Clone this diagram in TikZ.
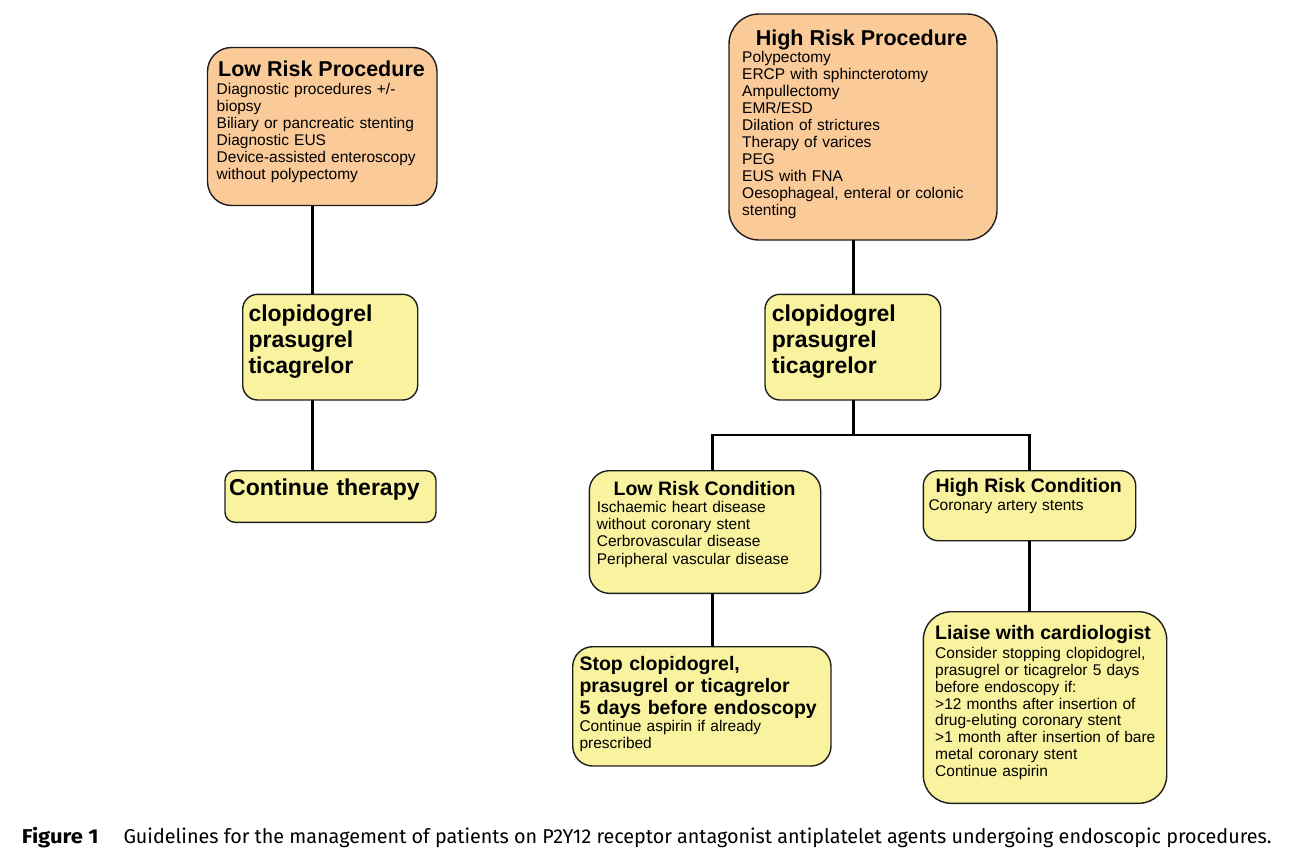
\documentclass[tikz,border=0pt]{standalone}
\usepackage{fontspec}
\setmainfont{Liberation Sans}
\newfontfamily\capfont{Fira Sans}
\usepackage{graphicx}
\definecolor{boxorange}{RGB}{251,202,153}
\definecolor{boxyellow}{RGB}{249,242,158}
\definecolor{edge}{RGB}{30,30,30}
\tikzset{
  boxbase/.style={draw=edge, line width=1.4pt, inner sep=0pt, outer sep=0pt, shape=rectangle},
  orangebox/.style={boxbase, fill=boxorange},
  yellowbox/.style={boxbase, fill=boxyellow},
  conn/.style={draw=black, line width=2.5pt},
  ttl/.style={inner sep=0pt, anchor=base, font=\bfseries\fontsize{21.5}{24}\selectfont},
  ttlsmall/.style={inner sep=0pt, anchor=base, font=\bfseries\fontsize{19.5}{21.7}\selectfont},
  bodytxt/.style={inner sep=0pt, anchor=base west, text width=320pt, align=left, font=\fontsize{15.5}{17}\selectfont},
  drugtxt/.style={inner sep=0pt, anchor=base west, text width=320pt, align=left, font=\bfseries\fontsize{23}{26}\selectfont},
  stoptxt/.style={inner sep=0pt, anchor=base west, text width=320pt, align=left, font=\bfseries\fontsize{19.5}{21.7}\selectfont},
}
\begin{document}
\begin{tikzpicture}[x=1pt,y=-1pt]
\useasboundingbox (0,0) rectangle (1289,855);
% boxes
\node[orangebox, rounded corners=24pt, minimum width=229.5pt, minimum height=158pt] (lrp) at (322.25,126.5) {};
\node[orangebox, rounded corners=30pt, minimum width=268pt, minimum height=226pt] (hrp) at (863,127) {};
\node[yellowbox, rounded corners=15pt, minimum width=175pt, minimum height=105.7pt] (drugl) at (330.2,347.15) {};
\node[yellowbox, rounded corners=15pt, minimum width=175.7pt, minimum height=105.7pt] (drugr) at (852.85,347.15) {};
\node[yellowbox, rounded corners=10pt, minimum width=211pt, minimum height=51.6pt] (cont) at (330.5,496.5) {};
\node[yellowbox, rounded corners=20pt, minimum width=231.4pt, minimum height=122.6pt] (lrc) at (705,532) {};
\node[yellowbox, rounded corners=15pt, minimum width=212.4pt, minimum height=70pt] (hrc) at (1029.5,505.7) {};
\node[yellowbox, rounded corners=20pt, minimum width=258.3pt, minimum height=119.3pt] (stop) at (701.85,706.35) {};
\node[yellowbox, rounded corners=28pt, minimum width=243.4pt, minimum height=191.6pt] (liaise) at (1045,707.5) {};
% connector coordinates
\coordinate (lx) at (312.7,0);
\coordinate (rx) at (853.3,0);
\coordinate (ax) at (712.7,0);
\coordinate (bx) at (1029.5,0);
\coordinate (jn) at (853.3,435);
% connectors
\draw[conn] (lrp.south -| lx) -- (drugl.north -| lx);
\draw[conn] (drugl.south -| lx) -- (cont.north -| lx);
\draw[conn] (hrp.south -| rx) -- (drugr.north -| rx);
\draw[conn] (drugr.south -| rx) -- (jn);
\draw[conn, line join=miter] (lrc.north -| ax) -- (ax |- jn) -- (bx |- jn) -- (hrc.north -| bx);
\draw[conn] (lrc.south -| ax) -- (stop.north -| ax);
\draw[conn] (hrc.south -| bx) -- (liaise.north -| bx);
% texts
\node[ttl] (lrpt) at (321.5,76) {Low Risk Procedure};
\node[bodytxt] (lrpb) at (216.5,94.3) {Diagnostic procedures +/-\\biopsy\\Biliary or pancreatic stenting\\Diagnostic EUS\\Device-assisted enteroscopy\\without polypectomy};
\node[ttl] (hrpt) at (861.5,45) {High Risk Procedure};
\node[bodytxt] (hrpb) at (742,62) {Polypectomy\\ERCP with sphincterotomy\\Ampullectomy\\EMR/ESD\\Dilation of strictures\\Therapy of varices\\PEG\\EUS with FNA\\Oesophageal, enteral or colonic\\stenting};
\node[drugtxt] (druglt) at (248.3,321) {clopidogrel\\prasugrel\\ticagrelor};
\node[drugtxt] (drugrt) at (771.7,321) {clopidogrel\\prasugrel\\ticagrelor};
\node[drugtxt] (contt) at (229,495.7) {Continue therapy};
\node[ttlsmall] (lrct) at (704.6,495) {Low Risk Condition};
\node[bodytxt, font=\fontsize{15.5}{17.1}\selectfont] (lrcb) at (596.7,512.7) {Ischaemic heart disease\\without coronary stent\\Cerbrovascular disease\\Peripheral vascular disease};
\node[ttlsmall] (hrct) at (1028.7,492.7) {High Risk Condition};
\node[bodytxt] (hrcb) at (928.3,510) {Coronary artery stents};
\node[stoptxt] (stopt) at (579.3,670.7) {Stop clopidogrel,\\prasugrel or ticagrelor\\5 days before endoscopy};
\node[bodytxt, font=\fontsize{15.5}{16.7}\selectfont] (stopb) at (579.3,731.7) {Continue aspirin if already\\prescribed};
\node[ttlsmall, anchor=base west] (liaiset) at (935,639) {Liaise with cardiologist};
\node[bodytxt, font=\fontsize{15.5}{16.9}\selectfont] (liaiseb) at (935,658.3) {Consider stopping clopidogrel,\\prasugrel or ticagrelor 5 days\\before endoscopy if:\\>12 months after insertion of\\drug-eluting coronary stent\\>1 month after insertion of bare\\metal coronary stent\\Continue aspirin};
% caption
\node[inner sep=0pt, anchor=base west, font=\capfont\bfseries\fontsize{20}{22}\selectfont] (figlabel) at (21.7,843.3) {\resizebox{76.6pt}{\height}{Figure 1}};
\node[inner sep=0pt, anchor=base west, font=\capfont\fontsize{20}{22}\selectfont] (figcap) at (123.3,843.3) {\resizebox{1148pt}{\height}{Guidelines for the management of patients on P2Y12 receptor antagonist antiplatelet agents undergoing endoscopic procedures.}};
\end{tikzpicture}
\end{document}
